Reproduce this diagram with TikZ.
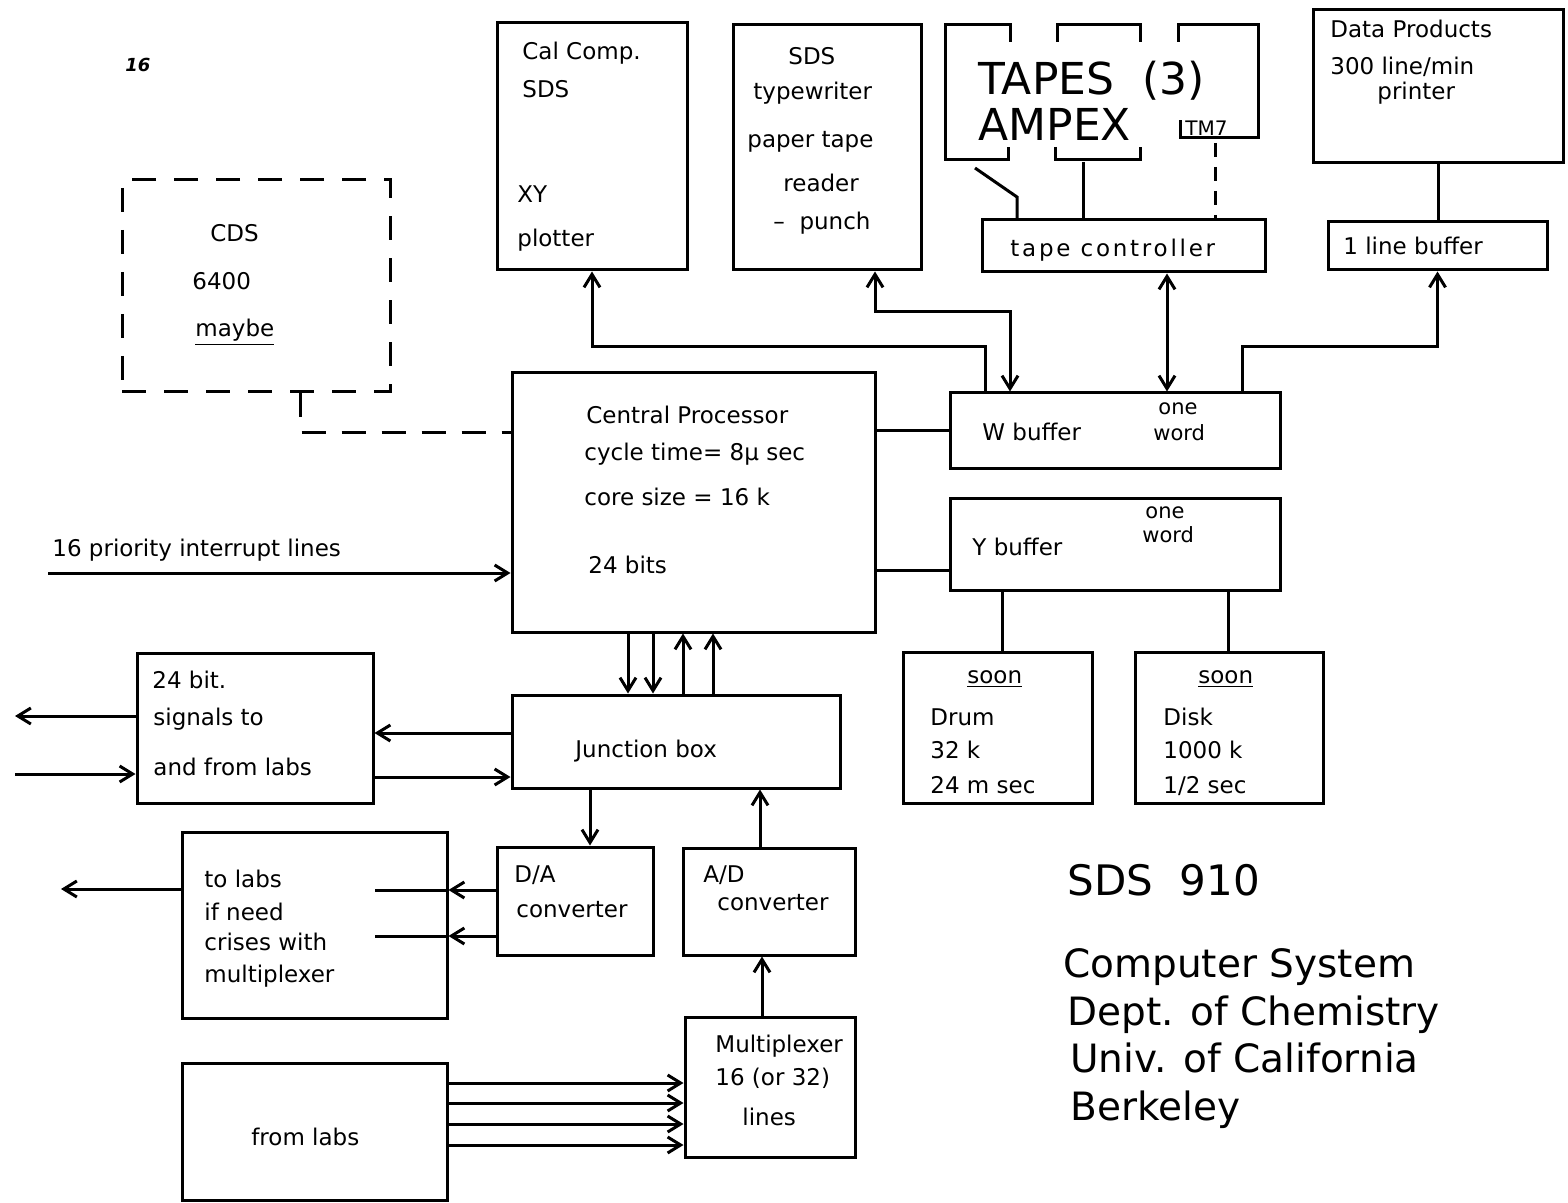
\documentclass[tikz,border=0pt]{standalone}
\usepackage{fontspec}
\setmainfont{DejaVu Sans}
\usetikzlibrary{arrows.meta,fit}

\begin{document}
\begin{tikzpicture}[
  x=0.5pt, y=-0.5pt,
  font=\fontsize{11.5}{13}\selectfont,
  box/.style={draw,line width=1.5pt,inner sep=0pt},
  dbox/.style={box,dash pattern=on 12pt off 9pt},
  lnk/.style={line width=1.5pt},
  txt/.style={anchor=base west,inner sep=0pt},
  small/.style={txt,font=\fontsize{10.5}{12}\selectfont},
  big/.style={txt,font=\fontsize{22}{24}\selectfont},
  title/.style={txt,font=\fontsize{19.5}{22}\selectfont},
  >={Straight Barb[length=6.5pt,width=8pt]}
]
\useasboundingbox (0,0) rectangle (1568,1203);

% boxes
\node[box,fit={(497,23)(687,270)}] (calcomp) {};
\node[box,fit={(733,25)(921,270)}] (tw) {};
\node[box,fit={(982,220)(1265,272)}] (tc) {};
\node[box,fit={(1313,10)(1563,163)}] (dp) {};
\node[box,fit={(1328,222)(1547,270)}] (lbuf) {};
\node[dbox,fit={(122,180)(390,392)}] (cds) {};
\node[box,fit={(512,373)(875,632)}] (cp) {};
\node[box,fit={(950,393)(1280,468)}] (wbuf) {};
\node[box,fit={(950,498)(1280,590)}] (ybuf) {};
\node[box,fit={(903,652)(1092,803)}] (drum) {};
\node[box,fit={(1135,652)(1323,803)}] (disk) {};
\node[box,fit={(137,653)(373,803)}] (sig) {};
\node[box,fit={(512,695)(840,788)}] (jb) {};
\node[box,fit={(497,847)(653,955)}] (da) {};
\node[box,fit={(683,848)(855,955)}] (ad) {};
\node[box,fit={(182,832)(447,1018)}] (tolabs) {};
\node[box,fit={(182,1063)(447,1200)}] (fromlabs) {};
\node[box,fit={(685,1017)(855,1157)}] (mux) {};

% the three tape units
\draw[lnk] (1010,42) |- (945,25) |- (1008,160) -- (1008,147);
\draw[lnk] (1057,42) |- (1140,25) -- (1140,42);
\draw[lnk] (1055,147) |- (1140,160) -- (1140,147);
\draw[lnk] (1178,42) |- (1258,25) |- (1180,138) -- (1180,120);

% texts
\node[txt,font=\fontsize{9}{10}\selectfont\itshape\bfseries] (pg) at (125,72) {16};
\node[txt] (cc1) at (522,60) {Cal Comp.};
\node[txt] (cc2) at (522,98) {SDS};
\node[txt] (cc3) at (517,203) {XY};
\node[txt] (cc4) at (517,247) {plotter};
\node[txt] (tw1) at (788,65) {SDS};
\node[txt] (tw2) at (753,100) {typewriter};
\node[txt] (tw3) at (747,148) {paper tape};
\node[txt] (tw4) at (783,192) {reader};
\node[txt] (tw5) at (773,230) {--\ \ punch};
\node[big] (tapes) at (978,95) {TAPES\ \ (3)};
\node[big] (ampex) at (978,141) {AMPEX};
\node[txt,font=\fontsize{10}{11}\selectfont] (tm7) at (1185,136) {TM7};
\node[txt,font=\fontsize{11.5}{13}\selectfont\addfontfeature{LetterSpace=12}] (tc1) at (1010,257) {tape controller};
\node[txt] (dp1) at (1330,38) {Data Products};
\node[txt] (dp2) at (1330,75) {300 line/min};
\node[txt] (dp3) at (1377,100) {printer};
\node[txt] (lb1) at (1343,255) {1 line buffer};
\node[txt] (cd1) at (210,242) {CDS};
\node[txt] (cd2) at (192,290) {6400};
\node[txt] (cd3) at (195,337) {\underline{maybe}};
\node[txt] (cp1) at (586,423) {Central Processor};
\node[txt] (cp2) at (584,460) {cycle time= 8μ sec};
\node[txt] (cp3) at (584,505) {core size = 16 k};
\node[txt] (cp4) at (588,573) {24 bits};
\node[txt] (wb1) at (982,440) {W buffer};
\node[small] (wb2) at (1158,415) {one};
\node[small] (wb3) at (1153,440) {word};
\node[txt] (yb1) at (972,555) {Y buffer};
\node[small] (yb2) at (1145,518) {one};
\node[small] (yb3) at (1142,542) {word};
\node[txt] (dr1) at (967,683) {\underline{soon}};
\node[txt] (dr2) at (930,725) {Drum};
\node[txt] (dr3) at (930,758) {32 k};
\node[txt] (dr4) at (930,793) {24 m sec};
\node[txt] (dk1) at (1198,683) {\underline{soon}};
\node[txt] (dk2) at (1163,725) {Disk};
\node[txt] (dk3) at (1163,758) {1000 k};
\node[txt] (dk4) at (1163,793) {1/2 sec};
\node[txt] (sg1) at (152,688) {24 bit.};
\node[txt] (sg2) at (153,725) {signals to};
\node[txt] (sg3) at (153,775) {and from labs};
\node[txt] (jb1) at (575,757) {Junction box};
\node[txt] (da1) at (514,882) {D/A};
\node[txt] (da2) at (516,917) {converter};
\node[txt] (ad1) at (703,882) {A/D};
\node[txt] (ad2) at (717,910) {converter};
\node[txt] (tl1) at (204,887) {to labs};
\node[txt] (tl2) at (204,920) {if need};
\node[txt] (tl3) at (204,950) {crises with};
\node[txt] (tl4) at (204,982) {multiplexer};
\node[txt] (fl1) at (251,1145) {from labs};
\node[txt] (mx1) at (715,1052) {Multiplexer};
\node[txt] (mx2) at (715,1085) {16 (or 32)};
\node[txt] (mx3) at (742,1125) {lines};
\node[txt] (irq1) at (52,556) {16 priority interrupt lines};
\node[txt,font=\fontsize{21}{24}\selectfont] (sds) at (1067,895) {SDS\ \ 910};
\node[title] (ti1) at (1063,977) {Computer\ System};
\node[title] (ti2) at (1067,1025) {Dept. of Chemistry};
\node[title] (ti3) at (1070,1072) {Univ. of California};
\node[title] (ti4) at (1070,1120) {Berkeley};

% connectors
\coordinate (tapeA) at (975,168);
\coordinate (tapeB) at (1083,162);
\coordinate (tapeC) at (1215,143);
\draw[lnk] (tapeA) -- (1017,197) -- (1017,0 |- tc.north);
\draw[lnk] (tapeB) -- (tapeB |- tc.north);
\draw[lnk,dash pattern=on 7pt off 5pt] (tapeC) -- (tapeC |- tc.north);
\draw[lnk] (dp.south) -- (dp.south |- lbuf.north);

\draw[lnk,->] (985,0 |- wbuf.north) -- (985,347) -| (calcomp.south);
\draw[lnk,<->] (875,0 |- tw.south) |- (1010,312) -- (1010,0 |- wbuf.north);
\draw[lnk,<->] (1167,0 |- tc.south) -- (1167,0 |- wbuf.north);
\draw[lnk,->] (1242,0 |- wbuf.north) -- (1242,347) -| (lbuf.south);

\draw[lnk,dash pattern=on 12pt off 8pt] (300,0 |- cds.south) |- (cp.west |- 0,432);
\draw[lnk] (wbuf.west -| cp.east) -- (wbuf.west);
\draw[lnk] (cp.east |- 0,570) -- (ybuf.west |- 0,570);
\draw[lnk] (1002,0 |- ybuf.south) -- (1002,0 |- drum.north);
\draw[lnk] (1228,0 |- ybuf.south) -- (1228,0 |- disk.north);

\coordinate (irq) at (48,573);
\draw[lnk,->] (irq) -- (irq -| cp.west);

\foreach \x in {628,653}
  \draw[lnk,->] (\x,0 |- cp.south) -- (\x,0 |- jb.north);
\foreach \x in {683,713}
  \draw[lnk,<-] (\x,0 |- cp.south) -- (\x,0 |- jb.north);

\draw[lnk,->] (jb.west |- 0,733) -- (sig.east |- 0,733);
\draw[lnk,->] (sig.east |- 0,777) -- (jb.west |- 0,777);
\coordinate (outA) at (15,716);
\coordinate (inA) at (15,774);
\draw[lnk,->] (sig.west |- outA) -- (outA);
\draw[lnk,->] (inA) -- (inA -| sig.west);

\draw[lnk,->] (590,0 |- jb.south) -- (590,0 |- da.north);
\draw[lnk,->] (760,0 |- ad.north) -- (760,0 |- jb.south);
\draw[lnk,->] (762,0 |- mux.north) -- (762,0 |- ad.south);

\foreach \y in {890,936}{
  \draw[lnk,->] (da.west |- 0,\y) -- (tolabs.east |- 0,\y);
  \draw[lnk] (tolabs.east |- 0,\y) -- ++(-74,0);
}
\coordinate (outB) at (61,889);
\draw[lnk,->] (tolabs.west |- outB) -- (outB);

\foreach \y in {1083,1103,1124,1145}
  \draw[lnk,->] (fromlabs.east |- 0,\y) -- (mux.west |- 0,\y);
\end{tikzpicture}
\end{document}
